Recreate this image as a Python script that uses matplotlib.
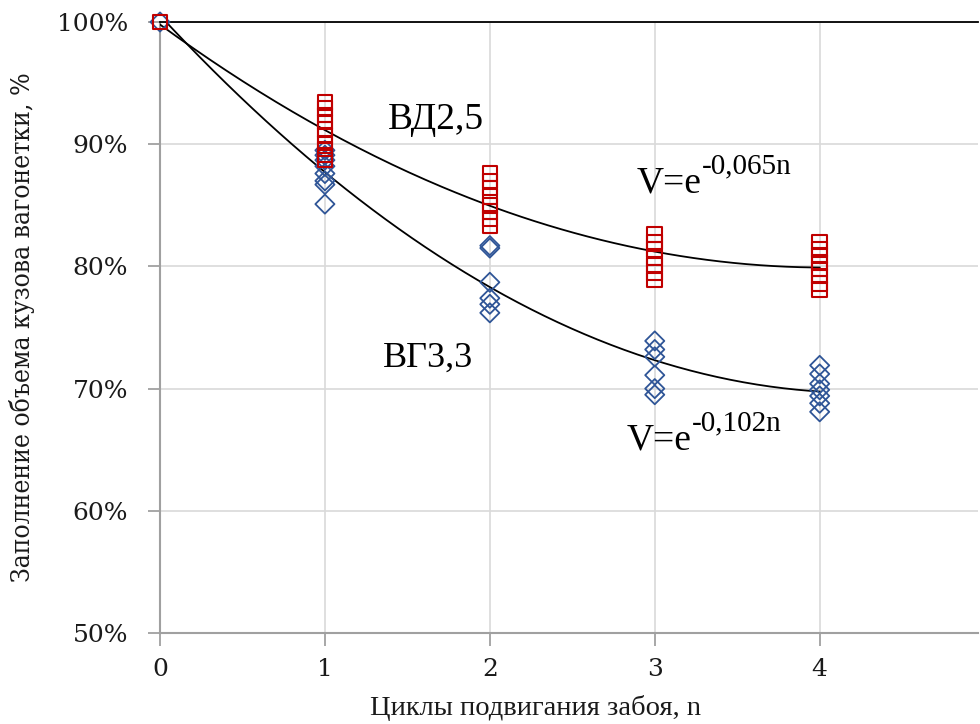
import numpy as np
import matplotlib
matplotlib.use("Agg")
import matplotlib.pyplot as plt
from matplotlib.ticker import FuncFormatter
from matplotlib import font_manager as fm

# ---- data ----
vd_x = [0, 1, 1, 1, 1, 1, 1, 1, 1, 1, 1,
        2, 2, 2, 2, 2, 2, 2, 2,
        3, 3, 3, 3, 3, 3, 3,
        4, 4, 4, 4, 4, 4, 4, 4]
vd_y = [100, 93.4, 92.9, 92.4, 91.8, 91.2, 90.7, 90.1, 89.6, 89.1, 88.7,
        87.6, 87.0, 86.4, 85.7, 85.0, 84.5, 83.9, 83.3,
        82.6, 82.0, 81.4, 80.7, 80.1, 79.5, 78.9,
        82.0, 81.4, 80.9, 80.3, 79.8, 79.2, 78.6, 78.1]

vg_x = [0, 1, 1, 1, 1, 1, 1, 1, 1,
        2, 2, 2, 2, 2, 2,
        3, 3, 3, 3, 3, 3,
        4, 4, 4, 4, 4, 4, 4]
vg_y = [100, 89.5, 89.1, 88.7, 88.2, 87.6, 87.0, 86.7, 85.1,
        81.7, 81.5, 78.7, 77.4, 76.9, 76.2,
        73.9, 73.2, 72.6, 71.1, 70.0, 69.5,
        71.9, 71.2, 70.4, 69.9, 69.4, 68.8, 68.1]

x_ticks = [0, 1, 2, 3, 4]
y_ticks = [50, 60, 70, 80, 90, 100]

label_vd = "ВД2,5"
label_vg = "ВГ3,3"
eq_base = "V=e"
eq_vd_sup = "-0,065n"
eq_vg_sup = "-0,102n"
x_label = "Циклы подвигания забоя, n"
y_label = "Заполнение объема кузова вагонетки, %"

# ---- plot ----
plt.rcParams['font.family'] = ['Liberation Serif', 'DejaVu Serif']
fig = plt.figure(figsize=(9.8, 7.24), dpi=100)
ax = fig.add_axes([160/980, 1 - 633/724, (978-160)/980, (633-22)/724])

ax.set_xlim(0, 4.96)
ax.set_ylim(50, 100)

# trend lines (2nd-order polynomial fits from the data)
xs = np.linspace(0, 4, 200)
for xd, yd in ((vd_x, vd_y), (vg_x, vg_y)):
    c = np.polyfit(xd, yd, 2)
    ax.plot(xs, np.polyval(c, xs), color='black', lw=1.3, zorder=3)

ax.scatter(vg_x, vg_y, marker='D', s=95, facecolors='none',
           edgecolors='#2F5597', linewidths=1.3, zorder=4, clip_on=False)
ax.scatter(vd_x, vd_y, marker='s', s=110, facecolors='none',
           edgecolors='#C00000', linewidths=1.5, zorder=5, clip_on=False)

ax.set_xticks(x_ticks)
ax.set_yticks(y_ticks)
ax.yaxis.set_major_formatter(FuncFormatter(lambda v, p: f"{v:.0f}%"))
ax.tick_params(axis='both', length=9, width=1.3, color='#A0A0A0',
               labelcolor='#1a1a1a')
ax.tick_params(axis='y', pad=14)
ax.tick_params(axis='x', pad=9)
for lbl in ax.get_xticklabels() + ax.get_yticklabels():
    lbl.set_fontfamily('DejaVu Serif')
    lbl.set_fontsize(18)

ax.grid(True, color='#D9D9D9', lw=1.2, zorder=0)
ax.set_axisbelow(True)
for s in ('left', 'bottom'):
    ax.spines[s].set_color('#A0A0A0')
    ax.spines[s].set_linewidth(1.5)
ax.spines['top'].set_color('black')
ax.spines['top'].set_linewidth(1.3)
ax.spines['right'].set_visible(False)

ax.text(1.38, 92.0, label_vd, fontsize=27, va='center', ha='left')
ax.text(1.35, 72.5, label_vg, fontsize=26, va='center', ha='left')

for (x0, y0, sup) in ((2.89, 86.8, eq_vd_sup), (2.83, 65.8, eq_vg_sup)):
    t = ax.text(x0, y0, eq_base, fontsize=27, va='center', ha='left')
    ax.annotate(sup, xy=(1.0, 0.6), xycoords=t, va='bottom', ha='left',
                fontsize=21)

ax.set_xlabel(x_label, fontsize=20.5, color='#1a1a1a')
ax.xaxis.set_label_coords((535 - 160) / 818, -(708 - 633) / 611)
ax.xaxis.label.set_va('center')

# y label: condensed font if available
fp = fm.FontProperties(family='DejaVu Serif', stretch='condensed')
fpath = fm.findfont(fp, fallback_to_default=True)
if 'ondensed' in fpath:
    ylab_kw = dict(fontproperties=fm.FontProperties(fname=fpath, size=19))
else:
    ylab_kw = dict(family='DejaVu Serif', fontsize=16)
fig.text(22/980, 1 - 327/724, y_label, rotation=90, ha='center',
         va='center', color='#1a1a1a', **ylab_kw)

fig.savefig("out.png", dpi=100)
